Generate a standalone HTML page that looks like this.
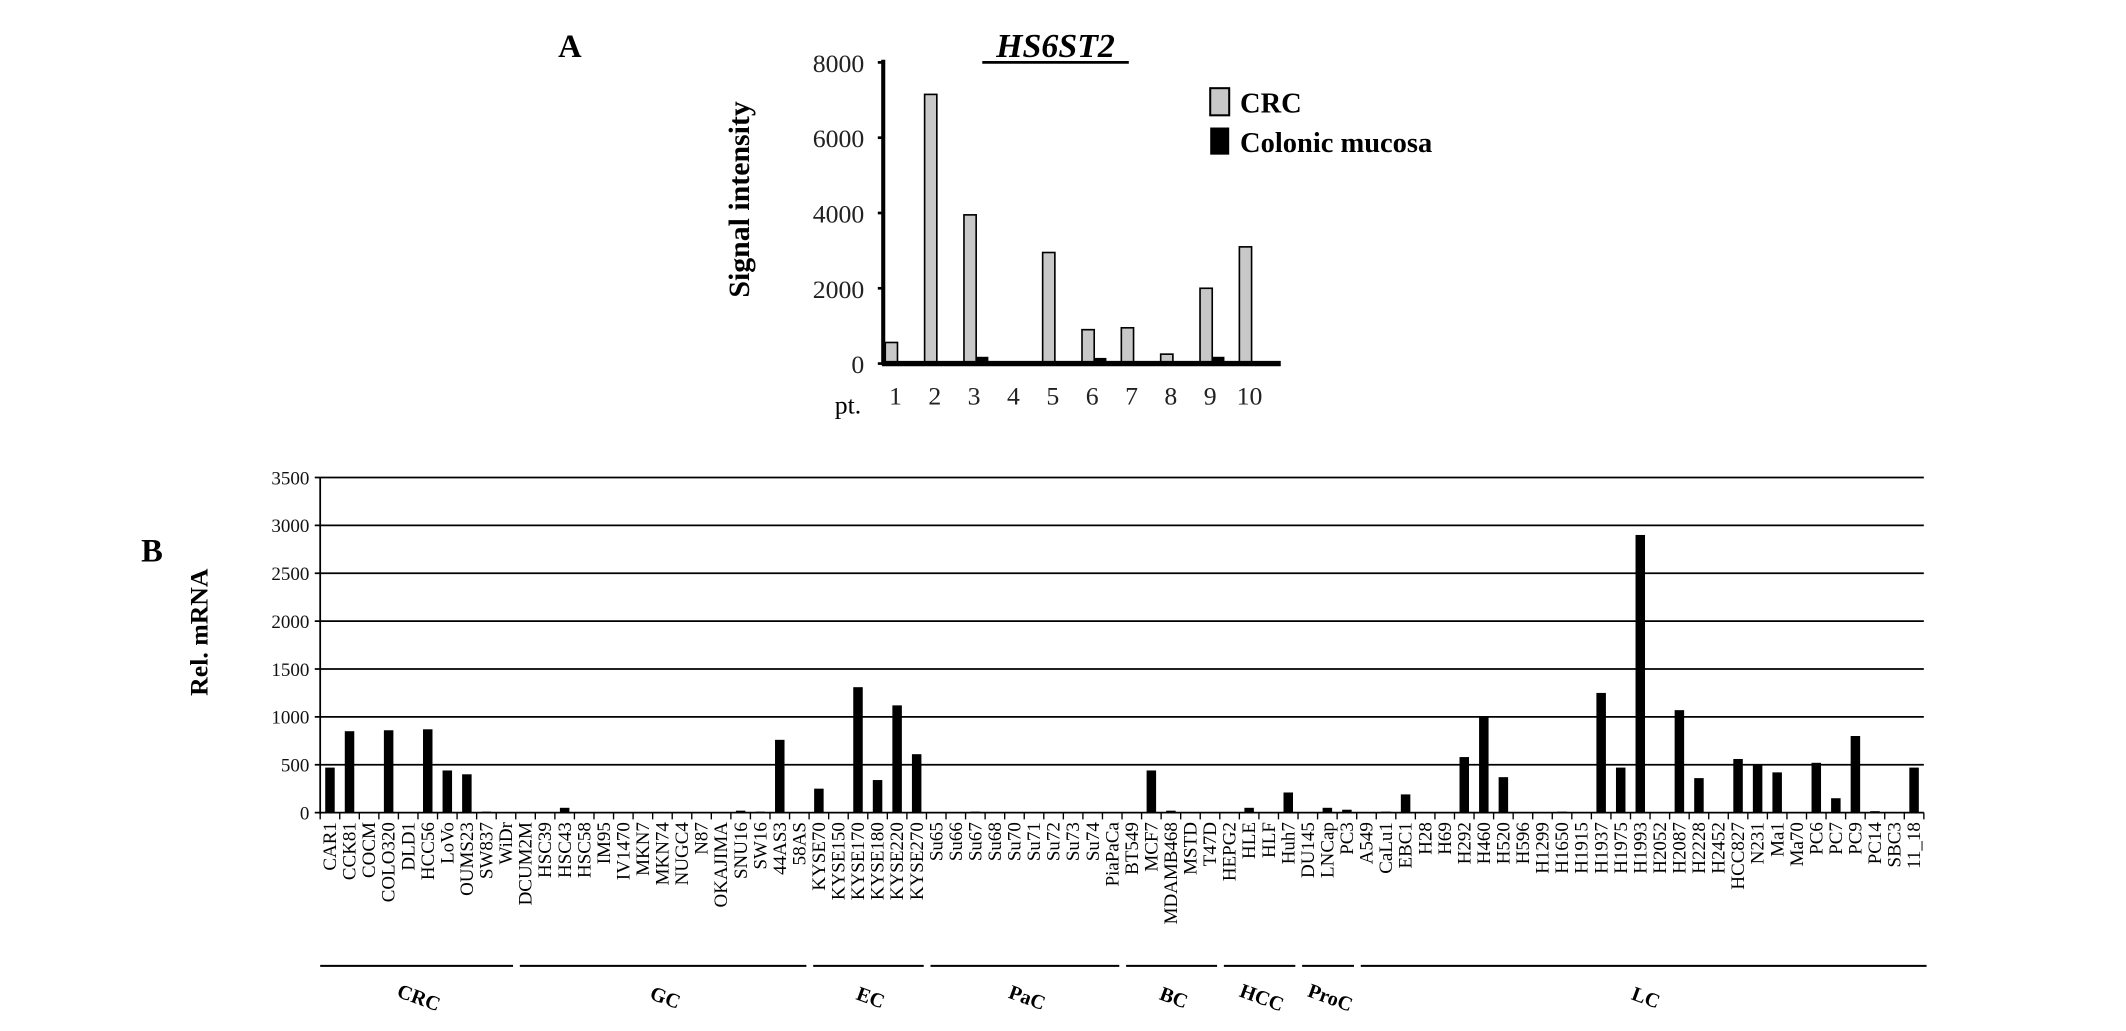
<!DOCTYPE html>
<html><head><meta charset="utf-8"><style>
html,body{margin:0;padding:0;background:#fff;}
svg{display:block;}
text{font-family:"Liberation Serif",serif;}
</style></head><body>
<svg id="s" width="2126" height="1031" viewBox="0 0 1567 760" preserveAspectRatio="none" xmlns="http://www.w3.org/2000/svg">
<text x="420" y="42" font-size="24" font-weight="bold" text-anchor="middle">A</text>
<text x="112" y="414" font-size="24" font-weight="bold" text-anchor="middle">B</text>
<g id="a"></g>
<g id="b"></g>
</svg>
<script>
const aPatients=["1","2","3","4","5","6","7","8","9","10"];
const aCRC=[560,7150,3950,0,2950,900,950,250,2000,3100];
const aMucosa=[0,0,180,0,0,150,0,0,180,0];
const aTicks=[0,2000,4000,6000,8000];

const bCats=["CAR1","CCK81","COCM","COLO320","DLD1","HCC56","LoVo","OUMS23","SW837","WiDr",
"DCUM2M","HSC39","HSC43","HSC58","IM95","IV1470","MKN7","MKN74","NUGC4","N87","OKAJIMA","SNU16","SW16","44AS3","58AS",
"KYSE70","KYSE150","KYSE170","KYSE180","KYSE220","KYSE270",
"Su65","Su66","Su67","Su68","Su70","Su71","Su72","Su73","Su74","PiaPaCa",
"BT549","MCF7","MDAMB468","MSTD","T47D",
"HEPG2","HLE","HLF","Huh7",
"DU145","LNCap","PC3",
"A549","CaLu1","EBC1","H28","H69","H292","H460","H520","H596","H1299","H1650","H1915","H1937","H1975","H1993","H2052","H2087","H2228","H2452","HCC827","N231","Ma1","Ma70","PC6","PC7","PC9","PC14","SBC3","11_18"];
const bVals=[470,850,0,860,0,870,440,400,10,0,
0,0,50,0,0,0,0,0,0,0,0,20,10,760,0,
250,0,1310,340,1120,610,
0,0,10,0,0,0,0,0,0,0,
0,440,20,0,0,
0,50,0,210,
0,50,30,
0,10,190,0,0,580,1000,370,0,0,10,0,1250,470,2900,0,1070,360,0,560,500,420,0,520,150,800,15,0,470];
const bGroups=["CRC","GC","EC","PaC","BC","HCC","ProC","LC"];
const bGroupSizes=[10,15,6,10,5,4,3,29];
const bTicks=[0,500,1000,1500,2000,2500,3000,3500];

const NS="http://www.w3.org/2000/svg";
function mk(p,t,at,txt){const e=document.createElementNS(NS,t);for(const k in at)e.setAttribute(k,at[k]);if(txt!==undefined)e.textContent=txt;p.appendChild(e);return e;}

// Chart A
const A=document.getElementById('a');
const ay=v=>268-v*(222/8000);
const ax=i=>657+i*29;
aTicks.forEach(t=>{
 const e=mk(A,'text',{x:637,y:ay(t)+7,'font-size':19,'text-anchor':'end',fill:'#222'},t);
 
 
 mk(A,'line',{x1:647,x2:651,y1:ay(t),y2:ay(t),stroke:'#000','stroke-width':2});
});
aPatients.forEach((p,i)=>{
 const h=ay(0)-ay(aCRC[i]);
 if(aCRC[i]>0){const r=mk(A,'rect',{x:ax(i)-4.5,y:ay(aCRC[i]),width:9,height:h,fill:'#c8c8c8',stroke:'#000','stroke-width':1.2});
 
 }
 if(aMucosa[i]>0){const r2=mk(A,'rect',{x:ax(i)+4.5,y:ay(aMucosa[i]),width:9,height:ay(0)-ay(aMucosa[i]),fill:'#000'});
 
 }
 const t=mk(A,'text',{x:ax(i)+3,y:298,'font-size':19,'text-anchor':'middle',fill:'#222'},p);
 
 
});
mk(A,'line',{x1:651,x2:651,y1:44,y2:269,stroke:'#000','stroke-width':3,});
mk(A,'line',{x1:650,x2:944,y1:268,y2:268,stroke:'#000','stroke-width':4,});
mk(A,'text',{x:625,y:305,'font-size':19,'text-anchor':'middle',},'pt.');
mk(A,'text',{x:778,y:42,'font-size':25,'font-weight':'bold','font-style':'italic','text-anchor':'middle',},'HS6ST2');
mk(A,'line',{x1:724,x2:832,y1:46,y2:46,stroke:'#000','stroke-width':2});
mk(A,'text',{x:0,y:0,'font-size':22,'font-weight':'bold','text-anchor':'middle',transform:'translate(552,147) rotate(-90)',},'Signal intensity');
mk(A,'rect',{x:892,y:65,width:14,height:20,fill:'#c8c8c8',stroke:'#000','stroke-width':1.5,});
mk(A,'text',{x:914,y:83,'font-size':21,'font-weight':'bold',},'CRC');
mk(A,'rect',{x:892,y:94,width:14,height:20,fill:'#000',});
mk(A,'text',{x:914,y:112,'font-size':21,'font-weight':'bold',},'Colonic mucosa');

// Chart B
const B=document.getElementById('b');
const x0=236,x1=1418,slot=(x1-x0)/bCats.length;
const by=v=>599-v*(247/3500);
const bx=i=>x0+slot*(i+0.5);
bTicks.forEach(t=>{
 mk(B,'line',{x1:232,x2:x1,y1:by(t),y2:by(t),stroke:'#000','stroke-width':1.3});
 const e=mk(B,'text',{x:228,y:by(t)+5,'font-size':14,'text-anchor':'end',fill:'#111','font-family':'Liberation Sans, sans-serif'},t);
 
 
});
mk(B,'line',{x1:236,x2:236,y1:352,y2:600,stroke:'#000','stroke-width':1.3});
bCats.forEach((c,i)=>{
 mk(B,'line',{x1:x0+slot*i,x2:x0+slot*i,y1:599,y2:604,stroke:'#000','stroke-width':1});
 if(bVals[i]>0){const r=mk(B,'rect',{x:bx(i)-3.5,y:by(bVals[i]),width:7,height:by(0)-by(bVals[i]),fill:'#000'});
 
 }
 const t=mk(B,'text',{x:0,y:0,'font-size':14,'text-anchor':'end',transform:`translate(${bx(i)+4.5},606) rotate(-90)`},c);
 
 
});
mk(B,'line',{x1:x1,x2:x1,y1:599,y2:604,stroke:'#000','stroke-width':1});
let start=0;
bGroups.forEach((g,k)=>{
 const a=x0+slot*start+(k?3:0), e=x0+slot*(start+bGroupSizes[k])-2+(k==bGroups.length-1?4:0);
 const l=mk(B,'line',{x1:a,x2:e,y1:712,y2:712,stroke:'#000','stroke-width':1.5});
 
 
 const cx=(a+e)/2;
 const t=mk(B,'text',{x:0,y:0,'font-size':15,'font-weight':'bold','text-anchor':'middle',transform:`translate(${cx},740) rotate(20)`},g);
 
 
 start+=bGroupSizes[k];
});
mk(B,'text',{x:0,y:0,'font-size':19,'font-weight':'bold','text-anchor':'middle',transform:'translate(153,466) rotate(-90)',},'Rel. mRNA');
</script>
</body></html>
